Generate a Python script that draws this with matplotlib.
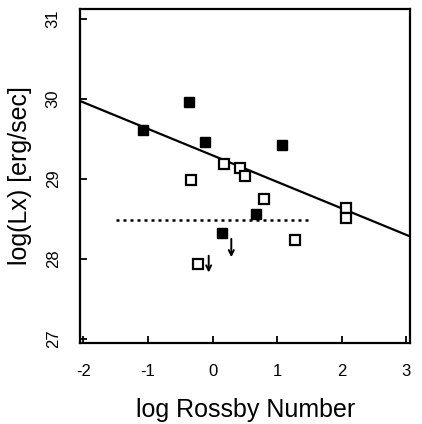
import matplotlib
matplotlib.use("Agg")
import matplotlib.pyplot as plt
import numpy as np

plt.rcParams['font.family'] = ['Liberation Sans', 'DejaVu Sans']

# Filled squares
filled_x = [-1.08, -0.37, -0.12, 1.08, 0.68, 0.14]
filled_y = [29.61, 29.96, 29.46, 29.42, 28.56, 28.32]
# Open squares
open_x = [-0.34, 0.17, 0.42, 0.50, 0.80, 2.06, 2.07, 1.27, -0.23]
open_y = [28.99, 29.18, 29.13, 29.04, 28.75, 28.64, 28.51, 28.23, 27.93]
# Upper limit arrows (x, y_start, y_end)
arrow_x = [0.29, -0.06]
arrow_y0 = [28.25, 28.04]
arrow_y1 = [28.02, 27.83]
# Regression line
fit_x = [-2.05, 3.06]
fit_y = [29.97, 28.28]
# Dotted mean line
mean_x = [-1.5, 1.5]
mean_y = [28.49, 28.49]

xticks = [-2, -1, 0, 1, 2, 3]
yticks = [27, 28, 29, 30, 31]

fig = plt.figure(figsize=(4.22, 4.24), dpi=100)
ax = fig.add_axes([0.19, 0.191, 0.782, 0.788])

ax.plot(fit_x, fit_y, color='black', lw=1.6)
ax.plot(mean_x, mean_y, color='black', lw=1.8, linestyle=(0, (1.2, 1.6)))
ax.plot(filled_x, filled_y, 's', color='black', ms=7.5, mec='black')
ax.plot(open_x, open_y, 's', mfc='white', mec='black', ms=7.5, mew=1.6)
for x, y0, y1 in zip(arrow_x, arrow_y0, arrow_y1):
    ax.annotate('', xy=(x, y1), xytext=(x, y0),
                arrowprops=dict(arrowstyle='->', color='black', lw=1.4,
                                shrinkA=0, shrinkB=0, mutation_scale=9))

ax.set_xlim(-2.05, 3.06)
ax.set_ylim(26.95, 31.12)
ax.set_xticks(xticks)
ax.set_yticks(yticks)
ax.set_xticklabels([str(t) for t in xticks], fontsize=12)
ax.set_yticklabels([str(t) for t in yticks], fontsize=12, rotation=90, va='center')
ax.tick_params(direction='in', length=5, width=1.3)
ax.tick_params(axis='x', pad=15)
ax.tick_params(axis='y', pad=14)
for s in ax.spines.values():
    s.set_linewidth(1.6)

ax.set_xlabel('log Rossby Number', fontsize=18, labelpad=14)
ax.set_ylabel('log(Lx) [erg/sec]', fontsize=18, labelpad=10)

fig.savefig('out.png', dpi=100)
